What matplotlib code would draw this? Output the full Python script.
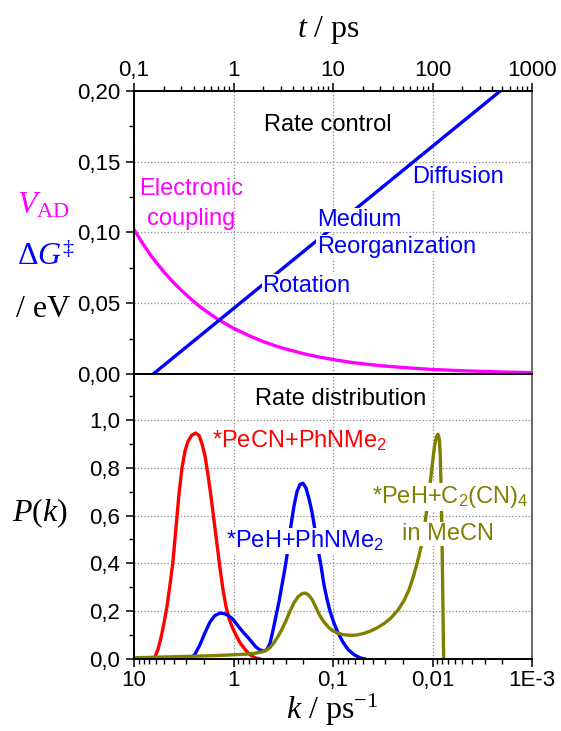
import matplotlib
matplotlib.use('Agg')
import matplotlib.pyplot as plt
from matplotlib.ticker import (FixedLocator, FixedFormatter, LogLocator,
                               MultipleLocator, FuncFormatter, NullFormatter)

plt.rcParams['font.family'] = ['Liberation Sans', 'DejaVu Sans']
plt.rcParams['mathtext.fontset'] = 'custom'
plt.rcParams['mathtext.rm'] = 'Liberation Serif'
plt.rcParams['mathtext.it'] = 'Liberation Serif:italic'
plt.rcParams['mathtext.sf'] = 'Liberation Sans'

# top panel: rate control vs time t (ps)
t_ticks = [0.1, 1, 10, 100, 1000]
t_labels = ['0,1', '1', '10', '100', '1000']
coupling_t = [0.1, 0.12, 0.15, 0.2, 0.25, 0.3, 0.4, 0.5, 0.7, 1, 1.5, 2, 3,
              5, 7, 10, 15, 20, 30, 50, 70, 100, 200, 500, 1000]
coupling_v = [0.102, 0.093, 0.083, 0.072, 0.0645, 0.059, 0.051, 0.0456,
              0.0385, 0.0323, 0.0264, 0.0228, 0.0186, 0.0144, 0.0122,
              0.0102, 0.0083, 0.0072, 0.0059, 0.0046, 0.0039, 0.0032,
              0.0023, 0.0014, 0.001]
barrier_t = [0.156, 484]
barrier_v = [0.0, 0.20]

# bottom panel: rate distributions P(k), k in ps^-1
k_ticks = [10, 1, 0.1, 0.01, 0.001]
k_labels = ['10', '1', '0,1', '0,01', '1E-3']
pecn_k = [6.594, 6.150, 5.739, 5.354, 4.994, 4.659, 4.347, 4.055, 3.784,
          3.530, 3.293, 3.072, 2.866, 2.643, 2.399, 2.222, 2.073, 1.934,
          1.804, 1.684, 1.570, 1.465, 1.367, 1.275, 1.190, 1.110, 1.035,
          0.944, 0.860, 0.766, 0.683, 0.608, 0.542]
pecn_p = [0, 0.01, 0.04, 0.09, 0.15, 0.22, 0.31, 0.41, 0.55, 0.69, 0.80,
          0.87, 0.91, 0.935, 0.945, 0.935, 0.90, 0.85, 0.77, 0.68, 0.58,
          0.48, 0.38, 0.29, 0.22, 0.17, 0.135, 0.10, 0.068, 0.04, 0.018,
          0.005, 0]
peh_k = [2.736, 2.438, 2.172, 1.934, 1.723, 1.534, 1.367, 1.246, 1.136,
         1.035, 0.944, 0.860, 0.784, 0.715, 0.652, 0.594, 0.542, 0.494,
         0.4605, 0.4298, 0.4009, 0.3740, 0.3489, 0.3255, 0.3037, 0.2833,
         0.2643, 0.2466, 0.2300, 0.2146, 0.2002, 0.1868, 0.1742, 0.1626,
         0.1517, 0.1415, 0.1320, 0.1232, 0.1149, 0.1072, 0.0977, 0.0891,
         0.0793, 0.0707, 0.0615, 0.0535, 0.0477]
peh_p = [0, 0.02, 0.06, 0.11, 0.155, 0.182, 0.192, 0.19, 0.183, 0.17, 0.15,
         0.128, 0.108, 0.09, 0.07, 0.05, 0.038, 0.033, 0.04, 0.065, 0.12,
         0.18, 0.24, 0.31, 0.38, 0.46, 0.56, 0.64, 0.70, 0.73, 0.735, 0.715,
         0.67, 0.615, 0.54, 0.46, 0.39, 0.31, 0.25, 0.20, 0.15, 0.11, 0.07,
         0.04, 0.018, 0.005, 0]
tcne_k = [10, 5.480, 2.736, 1.367, 0.766, 0.608, 0.517, 0.4716, 0.4298,
          0.3917, 0.3570, 0.3255, 0.2968, 0.2705, 0.2466, 0.2248, 0.2049,
          0.1912, 0.1784, 0.1626, 0.1482, 0.1351, 0.1232, 0.1123, 0.1023,
          0.0912, 0.0793, 0.0675, 0.0587, 0.0499, 0.0425, 0.0361, 0.0307,
          0.0261, 0.0222, 0.0193, 0.0172, 0.0157, 0.0143, 0.0130, 0.01217,
          0.01136, 0.01059, 0.01000, 0.00955, 0.00912, 0.00881, 0.00854,
          0.00835, 0.00818, 0.00802, 0.00790, 0.00779, 0.00772]
tcne_p = [0.005, 0.008, 0.011, 0.015, 0.02, 0.024, 0.03, 0.036, 0.048,
          0.068, 0.094, 0.125, 0.16, 0.2, 0.235, 0.26, 0.273, 0.276, 0.27,
          0.25, 0.215, 0.18, 0.155, 0.135, 0.12, 0.109, 0.102, 0.099, 0.1,
          0.106, 0.116, 0.13, 0.148, 0.172, 0.205, 0.245, 0.29, 0.34, 0.4,
          0.47, 0.54, 0.63, 0.73, 0.82, 0.89, 0.93, 0.94, 0.92, 0.85, 0.7,
          0.5, 0.3, 0.1, 0]

MAG = '#ff00ff'
BLUE = '#0000ff'
RED = '#ff0000'
OLIVE = '#808000'

W, H = 561, 731
fig = plt.figure(figsize=(W / 100, H / 100), dpi=100)
ax1 = fig.add_axes([134 / W, 1 - 374 / H, 398 / W, (374 - 90.7) / H])
ax2 = fig.add_axes([134 / W, 1 - 659 / H, 398 / W, (659 - 374) / H])

comma = lambda fmt: FuncFormatter(lambda v, p: (fmt % v).replace('.', ','))

for ax in (ax1, ax2):
    ax.set_xscale('log')
    ax.set_axisbelow(True)
    ax.grid(True, which='major', ls=':', color='#888888', lw=0.9)
    for s in ('left', 'top', 'bottom'):
        ax.spines[s].set_linewidth(1.4)
    ax.spines['right'].set_color('#666666')
    ax.spines['right'].set_linewidth(1.4)
    ax.tick_params(which='major', length=6, width=1.1, labelsize=16,
                   direction='out')
    ax.tick_params(which='minor', length=3.5, width=1.0, direction='out')
    ax.tick_params(axis='y', which='both', right=False, pad=4)
    ax.xaxis.set_minor_locator(LogLocator(base=10, subs=range(2, 10)))
    ax.xaxis.set_minor_formatter(NullFormatter())

# top panel
ax1.plot(coupling_t, coupling_v, color=MAG, lw=2.4)
ax1.plot(barrier_t, barrier_v, color=BLUE, lw=2.4, solid_capstyle='butt')
ax1.set_xlim(0.1, 1000)
ax1.set_ylim(0, 0.20)
ax1.xaxis.set_major_locator(FixedLocator(t_ticks))
ax1.xaxis.set_major_formatter(FixedFormatter(t_labels))
ax1.tick_params(axis='x', which='both', top=True, bottom=False,
                labeltop=True, labelbottom=False, pad=1)
ax1.yaxis.set_major_locator(MultipleLocator(0.05))
ax1.yaxis.set_minor_locator(MultipleLocator(0.025))
ax1.yaxis.set_major_formatter(comma('%.2f'))

box = dict(facecolor='white', edgecolor='none', pad=0.5)
fs = 17
ax1.text(0.487, 0.859, 'Rate control', transform=ax1.transAxes,
         ha='center', va='baseline', fontsize=fs)
ax1.text(0.143, 0.632, 'Electronic', transform=ax1.transAxes, color=MAG,
         ha='center', va='baseline', fontsize=fs)
ax1.text(0.143, 0.526, 'coupling', transform=ax1.transAxes, color=MAG,
         ha='center', va='baseline', fontsize=fs)
ax1.text(0.698, 0.673, 'Diffusion', transform=ax1.transAxes, color=BLUE,
         ha='left', va='baseline', fontsize=fs, bbox=box)
ax1.text(0.459, 0.522, 'Medium', transform=ax1.transAxes, color=BLUE,
         ha='left', va='baseline', fontsize=fs, bbox=box)
ax1.text(0.459, 0.428, 'Reorganization', transform=ax1.transAxes,
         color=BLUE, ha='left', va='baseline', fontsize=fs, bbox=box)
ax1.text(0.323, 0.289, 'Rotation', transform=ax1.transAxes, color=BLUE,
         ha='left', va='baseline', fontsize=fs, bbox=box)

# bottom panel
ax2.plot(pecn_k, pecn_p, color=RED, lw=2.4)
ax2.plot(peh_k, peh_p, color=BLUE, lw=2.4)
ax2.plot(tcne_k, tcne_p, color=OLIVE, lw=2.4)
ax2.set_xlim(10, 0.001)
ax2.set_ylim(0, 1.192)
ax2.xaxis.set_major_locator(FixedLocator(k_ticks))
ax2.xaxis.set_major_formatter(FixedFormatter(k_labels))
ax2.tick_params(axis='x', which='both', top=False, bottom=True, pad=2)
ax2.yaxis.set_major_locator(MultipleLocator(0.2))
ax2.yaxis.set_minor_locator(MultipleLocator(0.1))
ax2.yaxis.set_major_formatter(comma('%.1f'))

ax2.text(0.518, 0.891, 'Rate distribution', transform=ax2.transAxes,
         ha='center', va='baseline', fontsize=fs)
ax2.text(0.197, 0.740, r'*PeCN+PhNMe$_\mathsf{2}$', transform=ax2.transAxes,
         color=RED, ha='left', va='baseline', fontsize=fs)
ax2.text(0.230, 0.389, r'*PeH+PhNMe$_\mathsf{2}$', transform=ax2.transAxes,
         color=BLUE, ha='left', va='baseline', fontsize=fs, bbox=box)
ax2.text(0.796, 0.547, r'*PeH+C$_\mathsf{2}$(CN)$_\mathsf{4}$',
         transform=ax2.transAxes, color=OLIVE, ha='center', va='baseline',
         fontsize=fs, bbox=box)
ax2.text(0.788, 0.418, 'in MeCN', transform=ax2.transAxes, color=OLIVE,
         ha='center', va='baseline', fontsize=fs, bbox=box)

# axis titles
serif = 'Liberation Serif'
fs_lab = 23
fig.text(0.586, 0.949, '$t$ / ps', family=serif, fontsize=fs_lab,
         ha='center', va='baseline')
fig.text(0.592, 0.017, '$k$ / ps$^{-1}$', family=serif, fontsize=fs_lab,
         ha='center', va='baseline')
fig.text(0.072, 0.2863, '$P(k)$', family=serif, fontsize=fs_lab,
         ha='center', va='baseline')
fig.text(0.0767, 0.708, r'$V_{\mathrm{AD}}$', family=serif, fontsize=fs_lab,
         color=MAG, ha='center', va='baseline')
fig.text(0.082, 0.6375, r'$\Delta G^{\ddagger}$', family=serif,
         fontsize=fs_lab, color=BLUE, ha='center', va='baseline')
fig.text(0.0767, 0.567, '/ eV', family=serif, fontsize=fs_lab,
         ha='center', va='baseline')

fig.savefig('out.png', dpi=100)
